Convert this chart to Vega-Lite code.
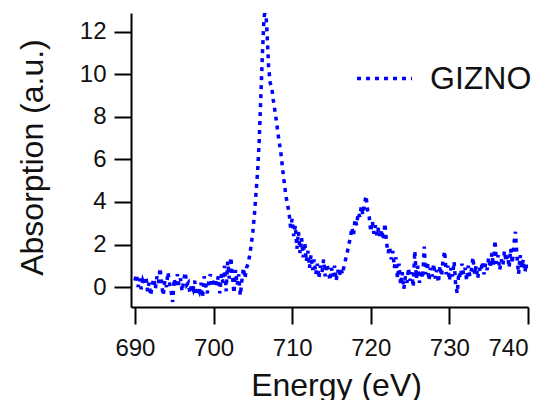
{
  "$schema": "https://vega.github.io/schema/vega-lite/v6.json",
  "width": 397,
  "height": 294,
  "autosize": {"type": "none"},
  "padding": {"left": 131, "top": 13, "right": 22, "bottom": 93},
  "background": "white",
  "config": {
    "view": {"stroke": null},
    "font": "Liberation Sans",
    "axis": {
      "domainColor": "#000000", "domainWidth": 2, "tickColor": "#000000", "tickWidth": 2, "tickSize": 17,
      "labelFont": "Liberation Sans", "labelFontSize": 24, "labelColor": "#111111",
      "titleFont": "Liberation Sans", "titleFontSize": 32, "titleFontWeight": "normal", "titleColor": "#111111",
      "grid": false
    }
  },
  "data": {"values": [
    {"E":690.0,"A":0.3,"s":"GIZNO"},{"E":690.2,"A":0.6,"s":"GIZNO"},{"E":690.4,"A":0.0,"s":"GIZNO"},{"E":690.6,"A":0.4,"s":"GIZNO"},{"E":690.8,"A":-0.1,"s":"GIZNO"},
    {"E":691.0,"A":0.3,"s":"GIZNO"},{"E":691.2,"A":0.1,"s":"GIZNO"},{"E":691.4,"A":0.5,"s":"GIZNO"},{"E":691.6,"A":-0.2,"s":"GIZNO"},{"E":691.8,"A":0.2,"s":"GIZNO"},
    {"E":692.0,"A":-0.4,"s":"GIZNO"},{"E":692.2,"A":0.1,"s":"GIZNO"},{"E":692.4,"A":0.4,"s":"GIZNO"},{"E":692.6,"A":-0.1,"s":"GIZNO"},{"E":692.8,"A":0.5,"s":"GIZNO"},
    {"E":693.0,"A":0.2,"s":"GIZNO"},{"E":693.2,"A":0.9,"s":"GIZNO"},{"E":693.4,"A":0.1,"s":"GIZNO"},{"E":693.6,"A":-0.4,"s":"GIZNO"},{"E":693.8,"A":0.3,"s":"GIZNO"},
    {"E":694.0,"A":0.0,"s":"GIZNO"},{"E":694.2,"A":0.7,"s":"GIZNO"},{"E":694.4,"A":0.2,"s":"GIZNO"},{"E":694.6,"A":-0.2,"s":"GIZNO"},{"E":694.8,"A":-0.7,"s":"GIZNO"},
    {"E":695.0,"A":0.4,"s":"GIZNO"},{"E":695.2,"A":0.0,"s":"GIZNO"},{"E":695.4,"A":0.6,"s":"GIZNO"},{"E":695.6,"A":0.1,"s":"GIZNO"},{"E":695.8,"A":0.4,"s":"GIZNO"},
    {"E":696.0,"A":-0.2,"s":"GIZNO"},{"E":696.2,"A":0.3,"s":"GIZNO"},{"E":696.4,"A":0.7,"s":"GIZNO"},{"E":696.6,"A":0.1,"s":"GIZNO"},{"E":696.8,"A":0.2,"s":"GIZNO"},
    {"E":697.0,"A":-0.3,"s":"GIZNO"},{"E":697.2,"A":0.1,"s":"GIZNO"},{"E":697.4,"A":-0.1,"s":"GIZNO"},{"E":697.6,"A":0.3,"s":"GIZNO"},{"E":697.8,"A":-0.4,"s":"GIZNO"},
    {"E":698.0,"A":0.0,"s":"GIZNO"},{"E":698.2,"A":-0.2,"s":"GIZNO"},{"E":698.4,"A":0.2,"s":"GIZNO"},{"E":698.6,"A":-0.5,"s":"GIZNO"},{"E":698.8,"A":0.5,"s":"GIZNO"},
    {"E":699.0,"A":0.1,"s":"GIZNO"},{"E":699.2,"A":-0.3,"s":"GIZNO"},{"E":699.4,"A":0.3,"s":"GIZNO"},{"E":699.6,"A":0.6,"s":"GIZNO"},{"E":699.8,"A":0.0,"s":"GIZNO"},
    {"E":700.0,"A":0.2,"s":"GIZNO"},{"E":700.2,"A":0.4,"s":"GIZNO"},{"E":700.4,"A":0.1,"s":"GIZNO"},{"E":700.6,"A":0.5,"s":"GIZNO"},{"E":700.8,"A":-0.3,"s":"GIZNO"},
    {"E":701.0,"A":0.6,"s":"GIZNO"},{"E":701.2,"A":0.2,"s":"GIZNO"},{"E":701.4,"A":1.0,"s":"GIZNO"},{"E":701.6,"A":-0.2,"s":"GIZNO"},{"E":701.8,"A":1.2,"s":"GIZNO"},
    {"E":702.0,"A":0.4,"s":"GIZNO"},{"E":702.2,"A":1.4,"s":"GIZNO"},{"E":702.4,"A":0.5,"s":"GIZNO"},{"E":702.6,"A":-0.3,"s":"GIZNO"},{"E":702.8,"A":0.8,"s":"GIZNO"},
    {"E":703.0,"A":0.1,"s":"GIZNO"},{"E":703.2,"A":0.6,"s":"GIZNO"},{"E":703.4,"A":-0.4,"s":"GIZNO"},{"E":703.6,"A":0.3,"s":"GIZNO"},{"E":703.8,"A":0.9,"s":"GIZNO"},
    {"E":704.0,"A":0.4,"s":"GIZNO"},{"E":704.2,"A":0.9,"s":"GIZNO"},{"E":704.4,"A":1.1,"s":"GIZNO"},{"E":704.6,"A":1.5,"s":"GIZNO"},{"E":704.8,"A":2.0,"s":"GIZNO"},
    {"E":705.0,"A":2.6,"s":"GIZNO"},{"E":705.2,"A":3.4,"s":"GIZNO"},{"E":705.4,"A":4.4,"s":"GIZNO"},{"E":705.6,"A":5.4,"s":"GIZNO"},{"E":705.8,"A":6.8,"s":"GIZNO"},
    {"E":706.0,"A":8.8,"s":"GIZNO"},{"E":706.2,"A":10.8,"s":"GIZNO"},{"E":706.4,"A":12.5,"s":"GIZNO"},{"E":706.6,"A":13.3,"s":"GIZNO"},{"E":706.8,"A":12.0,"s":"GIZNO"},
    {"E":707.0,"A":10.4,"s":"GIZNO"},{"E":707.2,"A":9.6,"s":"GIZNO"},{"E":707.4,"A":9.4,"s":"GIZNO"},{"E":707.6,"A":8.8,"s":"GIZNO"},{"E":707.8,"A":8.3,"s":"GIZNO"},
    {"E":708.0,"A":7.8,"s":"GIZNO"},{"E":708.2,"A":7.2,"s":"GIZNO"},{"E":708.4,"A":6.7,"s":"GIZNO"},{"E":708.6,"A":6.2,"s":"GIZNO"},{"E":708.8,"A":5.5,"s":"GIZNO"},
    {"E":709.0,"A":4.9,"s":"GIZNO"},{"E":709.2,"A":4.3,"s":"GIZNO"},{"E":709.4,"A":3.9,"s":"GIZNO"},{"E":709.6,"A":3.5,"s":"GIZNO"},{"E":709.8,"A":2.8,"s":"GIZNO"},
    {"E":710.0,"A":3.2,"s":"GIZNO"},{"E":710.2,"A":2.4,"s":"GIZNO"},{"E":710.4,"A":2.9,"s":"GIZNO"},{"E":710.6,"A":1.8,"s":"GIZNO"},{"E":710.8,"A":2.6,"s":"GIZNO"},
    {"E":711.0,"A":1.6,"s":"GIZNO"},{"E":711.2,"A":2.3,"s":"GIZNO"},{"E":711.4,"A":1.4,"s":"GIZNO"},{"E":711.6,"A":2.1,"s":"GIZNO"},{"E":711.8,"A":1.2,"s":"GIZNO"},
    {"E":712.0,"A":1.7,"s":"GIZNO"},{"E":712.2,"A":0.9,"s":"GIZNO"},{"E":712.4,"A":1.5,"s":"GIZNO"},{"E":712.6,"A":0.8,"s":"GIZNO"},{"E":712.8,"A":1.3,"s":"GIZNO"},
    {"E":713.0,"A":0.6,"s":"GIZNO"},{"E":713.2,"A":1.1,"s":"GIZNO"},{"E":713.4,"A":0.4,"s":"GIZNO"},{"E":713.6,"A":1.0,"s":"GIZNO"},{"E":713.8,"A":0.7,"s":"GIZNO"},
    {"E":714.0,"A":1.3,"s":"GIZNO"},{"E":714.2,"A":0.5,"s":"GIZNO"},{"E":714.4,"A":1.1,"s":"GIZNO"},{"E":714.6,"A":0.8,"s":"GIZNO"},{"E":714.8,"A":0.3,"s":"GIZNO"},
    {"E":715.0,"A":0.9,"s":"GIZNO"},{"E":715.2,"A":0.5,"s":"GIZNO"},{"E":715.4,"A":1.0,"s":"GIZNO"},{"E":715.6,"A":0.3,"s":"GIZNO"},{"E":715.8,"A":0.8,"s":"GIZNO"},
    {"E":716.0,"A":0.5,"s":"GIZNO"},{"E":716.2,"A":0.9,"s":"GIZNO"},{"E":716.4,"A":0.6,"s":"GIZNO"},{"E":716.6,"A":1.0,"s":"GIZNO"},{"E":716.8,"A":1.3,"s":"GIZNO"},
    {"E":717.0,"A":1.6,"s":"GIZNO"},{"E":717.2,"A":2.0,"s":"GIZNO"},{"E":717.4,"A":2.3,"s":"GIZNO"},{"E":717.6,"A":2.8,"s":"GIZNO"},{"E":717.8,"A":2.4,"s":"GIZNO"},
    {"E":718.0,"A":3.2,"s":"GIZNO"},{"E":718.2,"A":2.9,"s":"GIZNO"},{"E":718.4,"A":3.5,"s":"GIZNO"},{"E":718.6,"A":3.3,"s":"GIZNO"},{"E":718.8,"A":3.8,"s":"GIZNO"},
    {"E":719.0,"A":3.4,"s":"GIZNO"},{"E":719.2,"A":3.9,"s":"GIZNO"},{"E":719.4,"A":4.3,"s":"GIZNO"},{"E":719.6,"A":3.6,"s":"GIZNO"},{"E":719.8,"A":3.3,"s":"GIZNO"},
    {"E":720.0,"A":2.6,"s":"GIZNO"},{"E":720.2,"A":3.1,"s":"GIZNO"},{"E":720.4,"A":2.5,"s":"GIZNO"},{"E":720.6,"A":2.9,"s":"GIZNO"},{"E":720.8,"A":2.4,"s":"GIZNO"},
    {"E":721.0,"A":2.8,"s":"GIZNO"},{"E":721.2,"A":2.3,"s":"GIZNO"},{"E":721.4,"A":2.7,"s":"GIZNO"},{"E":721.6,"A":2.2,"s":"GIZNO"},{"E":721.8,"A":3.0,"s":"GIZNO"},
    {"E":722.0,"A":2.1,"s":"GIZNO"},{"E":722.2,"A":1.6,"s":"GIZNO"},{"E":722.4,"A":1.9,"s":"GIZNO"},{"E":722.6,"A":1.3,"s":"GIZNO"},{"E":722.8,"A":1.7,"s":"GIZNO"},
    {"E":723.0,"A":0.9,"s":"GIZNO"},{"E":723.2,"A":1.4,"s":"GIZNO"},{"E":723.4,"A":0.4,"s":"GIZNO"},{"E":723.6,"A":1.1,"s":"GIZNO"},{"E":723.8,"A":0.1,"s":"GIZNO"},
    {"E":724.0,"A":0.7,"s":"GIZNO"},{"E":724.2,"A":-0.1,"s":"GIZNO"},{"E":724.4,"A":0.5,"s":"GIZNO"},{"E":724.6,"A":0.2,"s":"GIZNO"},{"E":724.8,"A":0.9,"s":"GIZNO"},
    {"E":725.0,"A":0.3,"s":"GIZNO"},{"E":725.2,"A":0.7,"s":"GIZNO"},{"E":725.4,"A":0.0,"s":"GIZNO"},{"E":725.6,"A":1.7,"s":"GIZNO"},{"E":725.8,"A":0.4,"s":"GIZNO"},
    {"E":726.0,"A":1.0,"s":"GIZNO"},{"E":726.2,"A":0.2,"s":"GIZNO"},{"E":726.4,"A":0.8,"s":"GIZNO"},{"E":726.6,"A":0.4,"s":"GIZNO"},{"E":726.8,"A":1.9,"s":"GIZNO"},
    {"E":727.0,"A":0.6,"s":"GIZNO"},{"E":727.2,"A":1.2,"s":"GIZNO"},{"E":727.4,"A":0.3,"s":"GIZNO"},{"E":727.6,"A":0.9,"s":"GIZNO"},{"E":727.8,"A":0.5,"s":"GIZNO"},
    {"E":728.0,"A":1.1,"s":"GIZNO"},{"E":728.2,"A":0.4,"s":"GIZNO"},{"E":728.4,"A":0.8,"s":"GIZNO"},{"E":728.6,"A":0.2,"s":"GIZNO"},{"E":728.8,"A":1.0,"s":"GIZNO"},
    {"E":729.0,"A":0.5,"s":"GIZNO"},{"E":729.2,"A":1.3,"s":"GIZNO"},{"E":729.4,"A":1.7,"s":"GIZNO"},{"E":729.6,"A":0.6,"s":"GIZNO"},{"E":729.8,"A":1.0,"s":"GIZNO"},
    {"E":730.0,"A":0.3,"s":"GIZNO"},{"E":730.2,"A":0.9,"s":"GIZNO"},{"E":730.4,"A":0.5,"s":"GIZNO"},{"E":730.6,"A":1.2,"s":"GIZNO"},{"E":730.8,"A":0.1,"s":"GIZNO"},
    {"E":731.0,"A":-0.3,"s":"GIZNO"},{"E":731.2,"A":0.7,"s":"GIZNO"},{"E":731.4,"A":0.4,"s":"GIZNO"},{"E":731.6,"A":1.1,"s":"GIZNO"},{"E":731.8,"A":0.6,"s":"GIZNO"},
    {"E":732.0,"A":0.9,"s":"GIZNO"},{"E":732.2,"A":0.3,"s":"GIZNO"},{"E":732.4,"A":1.0,"s":"GIZNO"},{"E":732.6,"A":0.5,"s":"GIZNO"},{"E":732.8,"A":0.8,"s":"GIZNO"},
    {"E":733.0,"A":1.4,"s":"GIZNO"},{"E":733.2,"A":0.6,"s":"GIZNO"},{"E":733.4,"A":1.0,"s":"GIZNO"},{"E":733.6,"A":0.4,"s":"GIZNO"},{"E":733.8,"A":0.9,"s":"GIZNO"},
    {"E":734.0,"A":0.7,"s":"GIZNO"},{"E":734.2,"A":1.2,"s":"GIZNO"},{"E":734.4,"A":0.6,"s":"GIZNO"},{"E":734.6,"A":1.1,"s":"GIZNO"},{"E":734.8,"A":0.8,"s":"GIZNO"},
    {"E":735.0,"A":1.4,"s":"GIZNO"},{"E":735.2,"A":0.9,"s":"GIZNO"},{"E":735.4,"A":1.6,"s":"GIZNO"},{"E":735.6,"A":1.0,"s":"GIZNO"},{"E":735.8,"A":2.2,"s":"GIZNO"},
    {"E":736.0,"A":1.1,"s":"GIZNO"},{"E":736.2,"A":1.5,"s":"GIZNO"},{"E":736.4,"A":0.8,"s":"GIZNO"},{"E":736.6,"A":1.3,"s":"GIZNO"},{"E":736.8,"A":1.0,"s":"GIZNO"},
    {"E":737.0,"A":1.7,"s":"GIZNO"},{"E":737.2,"A":1.2,"s":"GIZNO"},{"E":737.4,"A":1.5,"s":"GIZNO"},{"E":737.6,"A":0.9,"s":"GIZNO"},{"E":737.8,"A":1.8,"s":"GIZNO"},
    {"E":738.0,"A":1.1,"s":"GIZNO"},{"E":738.2,"A":2.0,"s":"GIZNO"},{"E":738.4,"A":2.6,"s":"GIZNO"},{"E":738.6,"A":1.4,"s":"GIZNO"},{"E":738.8,"A":0.6,"s":"GIZNO"},
    {"E":739.0,"A":1.5,"s":"GIZNO"},{"E":739.2,"A":0.9,"s":"GIZNO"},{"E":739.4,"A":1.3,"s":"GIZNO"},{"E":739.6,"A":0.7,"s":"GIZNO"},{"E":739.8,"A":1.1,"s":"GIZNO"},
    {"E":740.0,"A":0.9,"s":"GIZNO"}
  ]},
  "mark": {"type": "line", "strokeWidth": 3.5, "strokeDash": [4, 5], "clip": true, "interpolate": "linear"},
  "encoding": {
    "x": {
      "field": "E", "type": "quantitative",
      "scale": {"domain": [689.5, 740], "nice": false, "zero": false},
      "axis": {"values": [690, 700, 710, 720, 730, 740], "labelPadding": 12, "title": "Energy (eV)",
               "titleX": 205, "titleY": 88, "titleBaseline": "alphabetic", "titleAlign": "center"}
    },
    "y": {
      "field": "A", "type": "quantitative",
      "scale": {"domain": [-0.94, 12.89], "nice": false, "zero": false},
      "axis": {"values": [0, 2, 4, 6, 8, 10, 12], "labelPadding": 8, "title": "Absorption (a.u.)",
               "titleX": -89, "titleY": 144, "titleBaseline": "alphabetic", "titleAlign": "center", "titleAngle": -90}
    },
    "color": {
      "field": "s", "type": "nominal",
      "scale": {"range": ["#0000ff"]},
      "legend": {
        "title": null, "orient": "none", "legendX": 224, "legendY": 36, "padding": 0,
        "symbolType": "stroke", "symbolSize": 3025, "symbolStrokeWidth": 3.5, "symbolDash": [4, 5],
        "labelFont": "Liberation Sans", "labelFontSize": 32, "labelColor": "#111111", "labelOffset": 16
      }
    }
  }
}
